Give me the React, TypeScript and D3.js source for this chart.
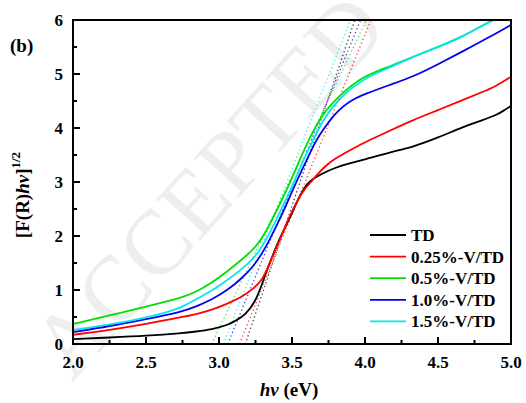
import React from "react";
import * as d3 from "d3";

const seriesNames = ["TD", "0.25%-V/TD", "0.5%-V/TD", "1.0%-V/TD", "1.5%-V/TD"];
const seriesColors = ["#000000", "#ff0000", "#00e000", "#0000ee", "#00e8ee"];

const tdData: [number, number][] = [
  [2.0, 0.09], [2.25, 0.12], [2.5, 0.15], [2.75, 0.2], [2.84, 0.23], [2.95, 0.27], [3.06, 0.35],
  [3.12, 0.44], [3.18, 0.54], [3.25, 0.78], [3.3, 1.15], [3.34, 1.45], [3.38, 1.72], [3.42, 1.98],
  [3.47, 2.25], [3.5, 2.42], [3.54, 2.67], [3.58, 2.88], [3.62, 3.02], [3.7, 3.15], [3.8, 3.27],
  [3.9, 3.35], [4.0, 3.42], [4.17, 3.55], [4.33, 3.65], [4.5, 3.82], [4.67, 4.02], [4.8, 4.14],
  [4.9, 4.24], [4.95, 4.32], [5.0, 4.41],
];
const v025Data: [number, number][] = [
  [2.0, 0.17], [2.25, 0.26], [2.5, 0.37], [2.75, 0.5], [2.84, 0.55], [2.95, 0.63], [3.06, 0.75],
  [3.15, 0.86], [3.24, 1.03], [3.3, 1.2], [3.34, 1.45], [3.38, 1.7], [3.44, 2.08], [3.48, 2.35],
  [3.54, 2.67], [3.58, 2.85], [3.62, 2.97], [3.66, 3.1], [3.72, 3.28], [3.8, 3.45], [3.9, 3.59],
  [4.0, 3.74], [4.17, 3.95], [4.33, 4.15], [4.5, 4.33], [4.67, 4.52], [4.8, 4.66], [4.9, 4.78],
  [5.0, 4.95],
];
const v05Data: [number, number][] = [
  [2.0, 0.37], [2.25, 0.53], [2.5, 0.69], [2.75, 0.86], [2.84, 0.96], [2.95, 1.13], [3.06, 1.35],
  [3.15, 1.55], [3.25, 1.78], [3.33, 2.11], [3.4, 2.5], [3.475, 2.91], [3.59, 3.65], [3.7, 4.25],
  [3.84, 4.64], [3.98, 4.95], [4.17, 5.14], [4.33, 5.32], [4.5, 5.5], [4.67, 5.69], [4.85, 5.97],
  [4.92, 6.05],
];
const v10Data: [number, number][] = [
  [2.0, 0.22], [2.25, 0.33], [2.5, 0.46], [2.75, 0.6], [2.84, 0.69], [2.95, 0.82], [3.06, 1.0],
  [3.15, 1.2], [3.24, 1.45], [3.3, 1.7], [3.34, 1.9], [3.38, 2.11], [3.45, 2.5], [3.52, 2.95],
  [3.6, 3.4], [3.66, 3.75], [3.72, 4.0], [3.79, 4.25], [3.85, 4.4], [3.91, 4.52], [4.0, 4.63],
  [4.17, 4.8], [4.33, 4.95], [4.5, 5.18], [4.67, 5.42], [4.85, 5.68], [5.0, 5.91],
];
const v15Data: [number, number][] = [
  [2.0, 0.26], [2.25, 0.36], [2.5, 0.48], [2.75, 0.67], [2.84, 0.83], [2.95, 0.98], [3.06, 1.19],
  [3.15, 1.37], [3.24, 1.59], [3.3, 1.82], [3.37, 2.17], [3.5, 2.91], [3.61, 3.6], [3.72, 4.2],
  [3.84, 4.6], [4.0, 4.93], [4.17, 5.12], [4.33, 5.32], [4.5, 5.5], [4.67, 5.69], [4.85, 5.97],
  [4.93, 6.05],
];
const allSeries = [tdData, v025Data, v05Data, v10Data, v15Data];

// tangent (dotted) lines: x at y=0 and x at y=6
const tangentStart = [3.18, 3.14, 2.95, 3.06, 3.03];
const tangentEnd = [3.93, 4.04, 4.01, 3.97, 3.9];

const xTicks = [2.0, 2.5, 3.0, 3.5, 4.0, 4.5, 5.0];
const xMinor = [2.25, 2.75, 3.25, 3.75, 4.25, 4.75];
const yTicks = [0, 1, 2, 3, 4, 5, 6];
const yMinor = [0.5, 1.5, 2.5, 3.5, 4.5, 5.5];

const W = 526, H = 403;
const L = 73, R = 511, T = 20, B = 344;

export default function App() {
  const x = d3.scaleLinear().domain([2, 5]).range([L, R]);
  const y = d3.scaleLinear().domain([0, 6]).range([B, T]);
  const line = d3.line<[number, number]>().x(d => x(d[0])).y(d => y(d[1])).curve(d3.curveBasis);
  const font = "'Liberation Serif', 'Times New Roman', serif";
  return (
    <svg width={W} height={H} style={{ position: "absolute", left: 0, top: 0, background: "#fff" }} fontFamily={font}>
      <defs>
        <clipPath id="plot"><rect x={L} y={T} width={R - L} height={B - T} /></clipPath>
      </defs>
      <text x={72} y={383} fontSize={92} fill="#eeeeee" transform="rotate(-48 72 383)">ACCEPTED</text>
      <g clipPath="url(#plot)">
        {tangentStart.map((s, i) => (
          <line key={"t" + i} x1={x(s)} y1={y(0)} x2={x(tangentEnd[i])} y2={y(6)}
            stroke={seriesColors[i]} strokeOpacity={0.75} strokeWidth={1.3} strokeDasharray="1.3,2.7" />
        ))}
        {allSeries.map((d, i) => (
          <path key={"s" + i} d={line(d) || ""} fill="none" stroke={seriesColors[i]} strokeWidth={1.8} />
        ))}
      </g>
      <rect x={L} y={T} width={R - L} height={B - T} fill="none" stroke="#000" strokeWidth={2} />
      {xTicks.map(t => (
        <g key={"xt" + t}>
          <line x1={x(t)} x2={x(t)} y1={B} y2={B - 7} stroke="#000" strokeWidth={2} />
          <text x={x(t)} y={368} fontSize={17} fontWeight="bold" textAnchor="middle">{t.toFixed(1)}</text>
        </g>
      ))}
      {xMinor.map(t => (
        <line key={"xm" + t} x1={x(t)} x2={x(t)} y1={B} y2={B - 4} stroke="#000" strokeWidth={2} />
      ))}
      {yTicks.map(t => (
        <g key={"yt" + t}>
          <line x1={L} x2={L + 7} y1={y(t)} y2={y(t)} stroke="#000" strokeWidth={2} />
          <text x={63} y={y(t) + 6} fontSize={17} fontWeight="bold" textAnchor="end">{t}</text>
        </g>
      ))}
      {yMinor.map(t => (
        <line key={"ym" + t} x1={L} x2={L + 4} y1={y(t)} y2={y(t)} stroke="#000" strokeWidth={2} />
      ))}
      <text x={10} y={52} fontSize={19} fontWeight="bold">(b)</text>
      <text x={289} y={396} fontSize={19} fontWeight="bold" textAnchor="middle">
        <tspan fontStyle="italic">hν</tspan> (eV)
      </text>
      <text transform="translate(29,195) rotate(-90)" fontSize={19} fontWeight="bold" textAnchor="middle">
        [F(R)<tspan fontStyle="italic">hν</tspan>]<tspan fontSize={13} dy={-9}>1/2</tspan>
      </text>
      {seriesNames.map((n, i) => {
        const yy = 235 + i * 21.6;
        return (
          <g key={"lg" + i}>
            <line x1={370} x2={406} y1={yy} y2={yy} stroke={seriesColors[i]} strokeWidth={1.8} />
            <text x={411} y={yy + 6} fontSize={17} fontWeight="bold">{n}</text>
          </g>
        );
      })}
    </svg>
  );
}
